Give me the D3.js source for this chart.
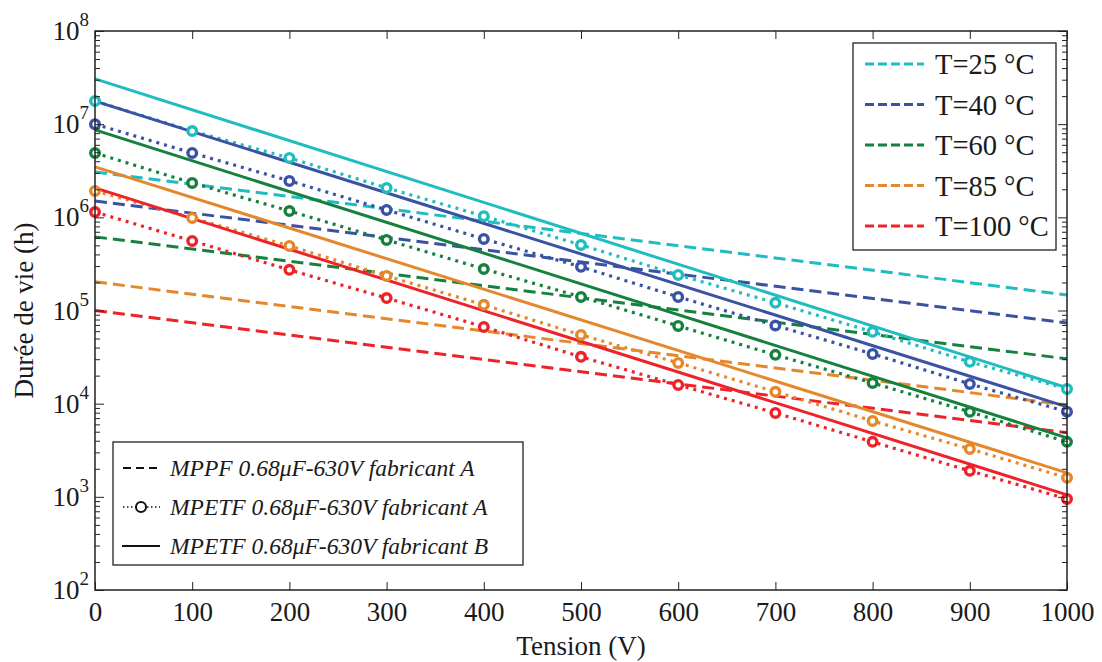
<!DOCTYPE html>
<html><head><meta charset="utf-8">
<script src="https://cdn.jsdelivr.net/npm/d3@7"></script>
<style>
html,body{margin:0;padding:0;background:#fff;}
svg{display:block;}
text{font-family:"Liberation Serif","Times New Roman",serif;fill:#1a1a1a;}
</style></head>
<body>
<svg id="chart" width="1102" height="662"></svg>
<script>
// ---- data ----
const voltages = [0,100,200,300,400,500,600,700,800,900,1000];
const tempLabels = ["T=25 °C","T=40 °C","T=60 °C","T=85 °C","T=100 °C"];
const colors = ["#1fbcc0","#3a52a3","#16803f","#e5872b","#ee2229"];
const seriesLabels = ["MPPF 0.68μF-630V fabricant A","MPETF 0.68μF-630V fabricant A","MPETF 0.68μF-630V fabricant B"];
// MPPF fabricant A (dashed), values at 0 V and 1000 V
const mppfEnds = [0,1000];
const mppf25 = [3.07e6,1.47e5];
const mppf40 = [1.50e6,7.36e4];
const mppf60 = [6.17e5,3.03e4];
const mppf85 = [2.03e5,9.7e3];
const mppf100 = [1.0e5,4.87e3];
// MPETF fabricant A (dotted with circles), values at every 100 V
const mpetfA25 = [1.77e7,8.45e6,4.34e6,2.07e6,1.03e6,5.06e5,2.41e5,1.21e5,5.9e4,2.81e4,1.44e4];
const mpetfA40 = [1.0e7,4.91e6,2.46e6,1.2e6,5.86e5,2.94e5,1.40e5,6.9e4,3.42e4,1.63e4,8.2e3];
const mpetfA60 = [4.91e6,2.34e6,1.17e6,5.72e5,2.79e5,1.40e5,6.83e4,3.34e4,1.67e4,8.17e3,3.89e3];
const mpetfA85 = [1.92e6,9.86e5,4.93e5,2.35e5,1.15e5,5.47e4,2.74e4,1.34e4,6.53e3,3.27e3,1.60e3];
const mpetfA100 = [1.14e6,5.58e5,2.73e5,1.36e5,6.67e4,3.18e4,1.59e4,7.96e3,3.89e3,1.90e3,9.5e2];
// MPETF fabricant B (solid), values at 0 V and 1000 V
const mpetfBEnds = [0,1000];
const mpetfB25 = [3.06e7,1.48e4];
const mpetfB40 = [1.77e7,9.25e3];
const mpetfB60 = [8.67e6,4.29e3];
const mpetfB85 = [3.48e6,1.81e3];
const mpetfB100 = [2.07e6,1.05e3];
const xTicks = [0,100,200,300,400,500,600,700,800,900,1000];
const yMajor = [1e2,1e3,1e4,1e5,1e6,1e7,1e8];

// ---- layout ----
const svg = d3.select("#chart");
const L = 95, R = 1067, T = 31, B = 590;
const x = d3.scaleLinear().domain([0,1000]).range([L,R]);
const y = d3.scaleLog().domain([1e2,1e8]).range([B,T]);

const dashedSets = [mppf25,mppf40,mppf60,mppf85,mppf100];
const dottedSets = [mpetfA25,mpetfA40,mpetfA60,mpetfA85,mpetfA100];
const solidSets = [mpetfB25,mpetfB40,mpetfB60,mpetfB85,mpetfB100];

const line = d3.line().x(d=>x(d[0])).y(d=>y(d[1]));

const g = svg.append("g");
// dashed
dashedSets.forEach((s,i)=>{
  g.append("path").datum(mppfEnds.map((v,k)=>[v,s[k]])).attr("d",line)
   .attr("fill","none").attr("stroke",colors[i]).attr("stroke-width",3)
   .attr("stroke-dasharray","12,6");
});
// dotted
dottedSets.forEach((s,i)=>{
  g.append("path").datum(voltages.map((v,k)=>[v,s[k]])).attr("d",line)
   .attr("fill","none").attr("stroke",colors[i]).attr("stroke-width",3.2)
   .attr("stroke-dasharray","3,5");
});
// solid
solidSets.forEach((s,i)=>{
  g.append("path").datum(mpetfBEnds.map((v,k)=>[v,s[k]])).attr("d",line)
   .attr("fill","none").attr("stroke",colors[i]).attr("stroke-width",3);
});
// markers
dottedSets.forEach((s,i)=>{
  g.selectAll(null).data(voltages.map((v,k)=>[v,s[k]])).enter().append("circle")
   .attr("cx",d=>x(d[0])).attr("cy",d=>y(d[1])).attr("r",4.3)
   .attr("fill","#fff").attr("stroke",colors[i]).attr("stroke-width",3.4);
});

// ---- axes ----
const ax = svg.append("g");
// bottom
ax.append("g").attr("transform",`translate(0,${B})`)
  .call(d3.axisBottom(x).tickValues(xTicks).tickSizeInner(-8).tickSizeOuter(0).tickFormat(d3.format("d")).tickPadding(12))
  .call(a=>{a.select(".domain").remove();a.selectAll("line").attr("stroke","#222");
    a.selectAll("text").attr("font-size",27).attr("font-family","Liberation Serif").attr("fill","#1a1a1a");});
// top
ax.append("g").attr("transform",`translate(0,${T})`)
  .call(d3.axisTop(x).tickValues(xTicks).tickSizeInner(-8).tickSizeOuter(0).tickFormat(""))
  .call(a=>{a.select(".domain").remove();a.selectAll("line").attr("stroke","#222");});
// minor y ticks
const yMinor = [];
for(let e=2;e<8;e++){for(let m=2;m<10;m++){yMinor.push(m*Math.pow(10,e));}}
ax.append("g").attr("transform",`translate(${L},0)`)
  .call(d3.axisRight(y).tickValues(yMinor).tickSize(5).tickFormat(""))
  .call(a=>{a.select(".domain").remove();a.selectAll("line").attr("stroke","#222");});
ax.append("g").attr("transform",`translate(${R},0)`)
  .call(d3.axisLeft(y).tickValues(yMinor).tickSize(5).tickFormat(""))
  .call(a=>{a.select(".domain").remove();a.selectAll("line").attr("stroke","#222");});
// major y ticks
ax.append("g").attr("transform",`translate(${L},0)`)
  .call(d3.axisRight(y).tickValues(yMajor).tickSize(9).tickFormat(""))
  .call(a=>{a.select(".domain").remove();a.selectAll("line").attr("stroke","#222");});
ax.append("g").attr("transform",`translate(${R},0)`)
  .call(d3.axisLeft(y).tickValues(yMajor).tickSize(9).tickFormat(""))
  .call(a=>{a.select(".domain").remove();a.selectAll("line").attr("stroke","#222");});
// y labels
yMajor.forEach(v=>{
  const t = ax.append("text").attr("x",L-6).attr("y",y(v)+9).attr("text-anchor","end")
    .attr("font-size",27);
  t.append("tspan").text("10");
  t.append("tspan").attr("font-size",19).attr("dy",-14).text(Math.round(Math.log10(v)));
});
// box
svg.append("rect").attr("x",L).attr("y",T).attr("width",R-L).attr("height",B-T)
  .attr("fill","none").attr("stroke","#222").attr("stroke-width",1.5);

// axis titles
svg.append("text").attr("x",(L+R)/2).attr("y",655).attr("text-anchor","middle")
  .attr("font-size",27).text("Tension (V)");
svg.append("text").attr("transform",`translate(33,${(T+B)/2}) rotate(-90)`).attr("text-anchor","middle")
  .attr("font-size",27).text("Durée de vie (h)");

// ---- temperature legend ----
const lg = svg.append("g");
lg.append("rect").attr("x",853).attr("y",43).attr("width",203).attr("height",207)
  .attr("fill","#fff").attr("stroke","#222").attr("stroke-width",1.3);
tempLabels.forEach((lab,i)=>{
  const yy = 64 + i*40.5;
  lg.append("line").attr("x1",865).attr("x2",924).attr("y1",yy).attr("y2",yy)
    .attr("stroke",colors[i]).attr("stroke-width",3).attr("stroke-dasharray","9,4");
  lg.append("text").attr("x",935).attr("y",yy+10).attr("font-size",28.5).text(lab);
});

// ---- series legend ----
const lg2 = svg.append("g");
lg2.append("rect").attr("x",113).attr("y",442).attr("width",410).attr("height",123)
  .attr("fill","#fff").attr("stroke","#222").attr("stroke-width",1.3);
const lyy = [468,507,546];
lg2.append("line").attr("x1",123).attr("x2",158).attr("y1",lyy[0]).attr("y2",lyy[0])
  .attr("stroke","#111").attr("stroke-width",2).attr("stroke-dasharray","8,5");
lg2.append("line").attr("x1",123).attr("x2",160).attr("y1",lyy[1]).attr("y2",lyy[1])
  .attr("stroke","#111").attr("stroke-width",1.5).attr("stroke-dasharray","1.5,2.5");
lg2.append("circle").attr("cx",141).attr("cy",lyy[1]).attr("r",5).attr("fill","#fff")
  .attr("stroke","#111").attr("stroke-width",2);
lg2.append("line").attr("x1",122).attr("x2",160).attr("y1",lyy[2]).attr("y2",lyy[2])
  .attr("stroke","#111").attr("stroke-width",2);
seriesLabels.forEach((lab,i)=>{
  lg2.append("text").attr("x",170).attr("y",lyy[i]+8).attr("font-size",23.5)
    .attr("font-style","italic").text(lab);
});
</script>
</body></html>
